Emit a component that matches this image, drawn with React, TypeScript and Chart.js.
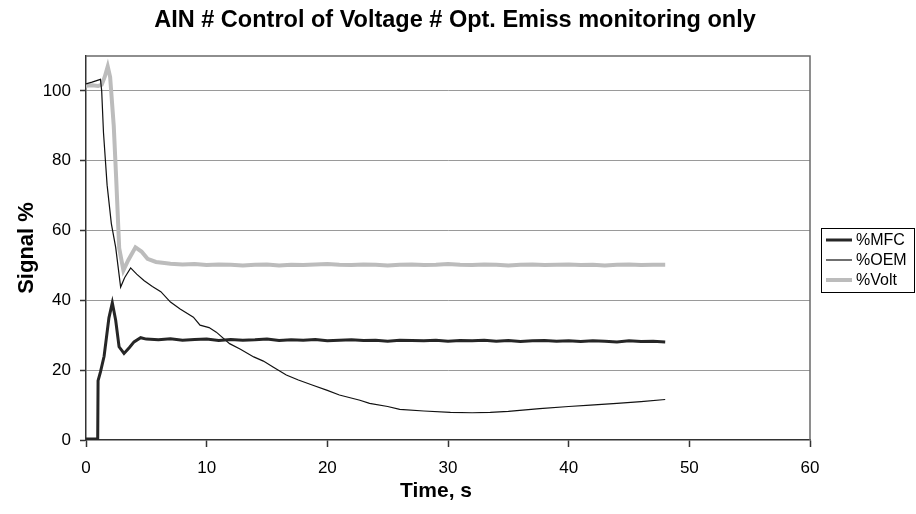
import React, { useEffect, useRef } from "react";
import { Chart, registerables } from "chart.js";

Chart.register(...registerables);

const chartTitle = "AIN # Control of Voltage # Opt. Emiss monitoring only";
const xAxisTitle = "Time, s";
const yAxisTitle = "Signal %";
const xTicks = [0, 10, 20, 30, 40, 50, 60];
const yTicks = [0, 20, 40, 60, 80, 100];
const seriesNames = ["%MFC", "%OEM", "%Volt"];

const mfcTime = [0, 0.5, 0.97, 1.0, 1.2, 1.5, 1.9, 2.18, 2.46, 2.74, 3.15, 3.6, 3.98, 4.53, 5, 6, 7, 8, 9, 10, 11, 12, 13, 14, 15, 16, 17, 18, 19, 20, 21, 22, 23, 24, 25, 26, 27, 28, 29, 30, 31, 32, 33, 34, 35, 36, 37, 38, 39, 40, 41, 42, 43, 44, 45, 46, 47, 48];
const mfcValues = [0.3, 0.3, 0.3, 17, 19.5, 24, 35, 39.3, 34.3, 26.7, 24.8, 26.5, 28.1, 29.3, 28.9, 28.7, 29.0, 28.6, 28.8, 28.9, 28.5, 28.8, 28.6, 28.7, 28.9, 28.5, 28.7, 28.6, 28.8, 28.4, 28.6, 28.7, 28.5, 28.6, 28.3, 28.6, 28.5, 28.4, 28.6, 28.3, 28.5, 28.4, 28.6, 28.3, 28.5, 28.2, 28.4, 28.5, 28.3, 28.4, 28.2, 28.4, 28.3, 28.1, 28.4, 28.2, 28.3, 28.1];

const oemTime = [0, 0.5, 1.2, 1.3, 1.45, 1.75, 2.1, 2.46, 2.87, 3.2, 3.7, 4.2, 4.8, 5.5, 6.2, 7.0, 7.8, 8.9, 9.45, 10.2, 10.8, 11.9, 12.8, 13.9, 14.7, 15.5, 16.6, 17.6, 18.8, 20, 21, 22.7, 23.5, 25, 26, 28, 30.2, 32, 33.5, 35, 37.6, 40, 41.8, 44, 46, 48];
const oemValues = [102, 102.5, 103.3, 100, 88, 73, 62, 55.2, 43.8, 46.5, 49.3, 47.5, 45.7, 44, 42.5, 39.5, 37.5, 35.2, 32.9, 32.2, 30.9, 27.6, 26, 23.8, 22.6, 20.9, 18.6, 17.2, 15.7, 14.2, 12.9, 11.4, 10.5, 9.6, 8.8, 8.3, 7.9, 7.8, 7.9, 8.2, 9.0, 9.6, 10.0, 10.5, 11.0, 11.6];

const voltTime = [0, 0.5, 1.0, 1.3, 1.55, 1.8, 2.0, 2.3, 2.5, 2.75, 3.1, 3.5, 4.1, 4.6, 5.1, 5.8, 6.5, 7, 8, 9, 10, 11, 12, 13, 14, 15, 16, 17, 18, 19, 20, 21, 22, 23, 24, 25, 26, 27, 28, 29, 30, 31, 32, 33, 34, 35, 36, 37, 38, 39, 40, 41, 42, 43, 44, 45, 46, 47, 48];
const voltValues = [101.5, 101.6, 101.4, 101.8, 104, 107, 104, 90, 75, 55, 48.6, 51.5, 55.2, 54, 51.9, 51, 50.7, 50.5, 50.3, 50.4, 50.1, 50.3, 50.2, 50.0, 50.2, 50.3, 50.0, 50.2, 50.1, 50.3, 50.4, 50.2, 50.1, 50.3, 50.2, 50.0, 50.2, 50.3, 50.1, 50.2, 50.4, 50.2, 50.1, 50.3, 50.2, 50.0, 50.2, 50.3, 50.1, 50.2, 50.3, 50.1, 50.2, 50.0, 50.2, 50.3, 50.1, 50.2, 50.2];

const FONT = "'Liberation Sans', Arial, sans-serif";

const toPoints = (t: number[], v: number[]) => t.map((x, i) => ({ x, y: v[i] }));

const framePlugin = {
  id: "frame",
  beforeDatasetsDraw(chart: any) {
    const { ctx, chartArea: a } = chart;
    ctx.save();
    ctx.strokeStyle = "#6a6a6a";
    ctx.lineWidth = 1.5;
    ctx.beginPath();
    ctx.moveTo(a.left, a.top);
    ctx.lineTo(a.right, a.top);
    ctx.lineTo(a.right, a.bottom);
    ctx.stroke();
    ctx.restore();
  },
};

const textPlugin = {
  id: "texts",
  afterDraw(chart: any) {
    const { ctx, chartArea: a } = chart;
    ctx.save();
    ctx.fillStyle = "#000";
    ctx.textAlign = "center";
    ctx.textBaseline = "middle";
    ctx.font = `bold 23.5px ${FONT}`;
    ctx.fillText(chartTitle, 455, 21);
    ctx.font = `bold 21px ${FONT}`;
    ctx.fillText(xAxisTitle, (a.left + a.right) / 2 - 12, 491);
    ctx.restore();
  },
};

const legendPlugin = {
  id: "boxLegend",
  afterDraw(chart: any) {
    const { ctx } = chart;
    const left = 821, top = 228, w = 93, h = 64;
    ctx.save();
    ctx.fillStyle = "#fff";
    ctx.fillRect(left, top, w, h);
    ctx.strokeStyle = "#000";
    ctx.lineWidth = 1;
    ctx.strokeRect(left + 0.5, top + 0.5, w, h);
    ctx.font = `16px ${FONT}`;
    ctx.textBaseline = "middle";
    ctx.textAlign = "left";
    chart.data.datasets.forEach((ds: any, i: number) => {
      const y = top + 12 + i * 20;
      ctx.strokeStyle = ds.borderColor;
      ctx.lineWidth = ds.borderWidth;
      ctx.beginPath();
      ctx.moveTo(left + 5, y);
      ctx.lineTo(left + 31, y);
      ctx.stroke();
      ctx.fillStyle = "#000";
      ctx.fillText(ds.label, left + 35, y + 1);
    });
    ctx.restore();
  },
};

export default function App() {
  const ref = useRef<HTMLCanvasElement>(null);
  useEffect(() => {
    if (!ref.current) return;
    const chart = new Chart(ref.current, {
      type: "line",
      data: {
        datasets: [
          { label: seriesNames[0], data: toPoints(mfcTime, mfcValues), borderColor: "#262626", borderWidth: 3, pointRadius: 0, tension: 0 },
          { label: seriesNames[1], data: toPoints(oemTime, oemValues), borderColor: "#111111", borderWidth: 1.2, pointRadius: 0, tension: 0 },
          { label: seriesNames[2], data: toPoints(voltTime, voltValues), borderColor: "#bcbcbc", borderWidth: 4, pointRadius: 0, tension: 0 },
        ],
      },
      options: {
        responsive: false,
        animation: false,
        layout: { padding: { left: 0, right: 106, top: 56, bottom: 0 } },
        plugins: {
          legend: { display: false },
          tooltip: { enabled: false },
          title: { display: false },
        },
        scales: {
          x: {
            type: "linear",
            min: 0,
            max: 60,
            afterBuildTicks: (s: any) => { s.ticks = xTicks.map((v) => ({ value: v })); },
            afterFit: (s: any) => { s.height = 74; },
            grid: { drawOnChartArea: false, drawTicks: true, tickLength: 7, tickColor: "#333", tickWidth: 1.5 },
            border: { color: "#333", width: 1.5 },
            ticks: { color: "#000", font: { family: FONT, size: 17 }, padding: 11, maxRotation: 0 },
            title: { display: false },
          },
          y: {
            type: "linear",
            min: 0,
            max: 110,
            afterBuildTicks: (s: any) => { s.ticks = yTicks.map((v) => ({ value: v })); },
            afterFit: (s: any) => { s.width = 86; },
            grid: {
              color: (c: any) => (c.tick && c.tick.value === 0 ? "rgba(0,0,0,0)" : "#9a9a9a"),
              borderDash: [2, 2],
              lineWidth: 1,
              drawTicks: true,
              tickLength: 6,
              tickColor: "#333",
              tickWidth: 1.5,
              tickBorderDash: [],
            },
            border: { color: "#333", width: 1.5 },
            ticks: { color: "#000", font: { family: FONT, size: 17 }, padding: 9 },
            title: { display: true, text: yAxisTitle, color: "#000", font: { family: FONT, size: 22, weight: "bold" }, padding: { top: 14, bottom: 0 } },
          },
        },
      },
      plugins: [framePlugin, textPlugin, legendPlugin],
    });
    return () => chart.destroy();
  }, []);
  return (
    <div style={{ position: "absolute", left: 0, top: 0, width: 916, height: 514, background: "#fff" }}>
      <canvas ref={ref} width={916} height={514} />
    </div>
  );
}
